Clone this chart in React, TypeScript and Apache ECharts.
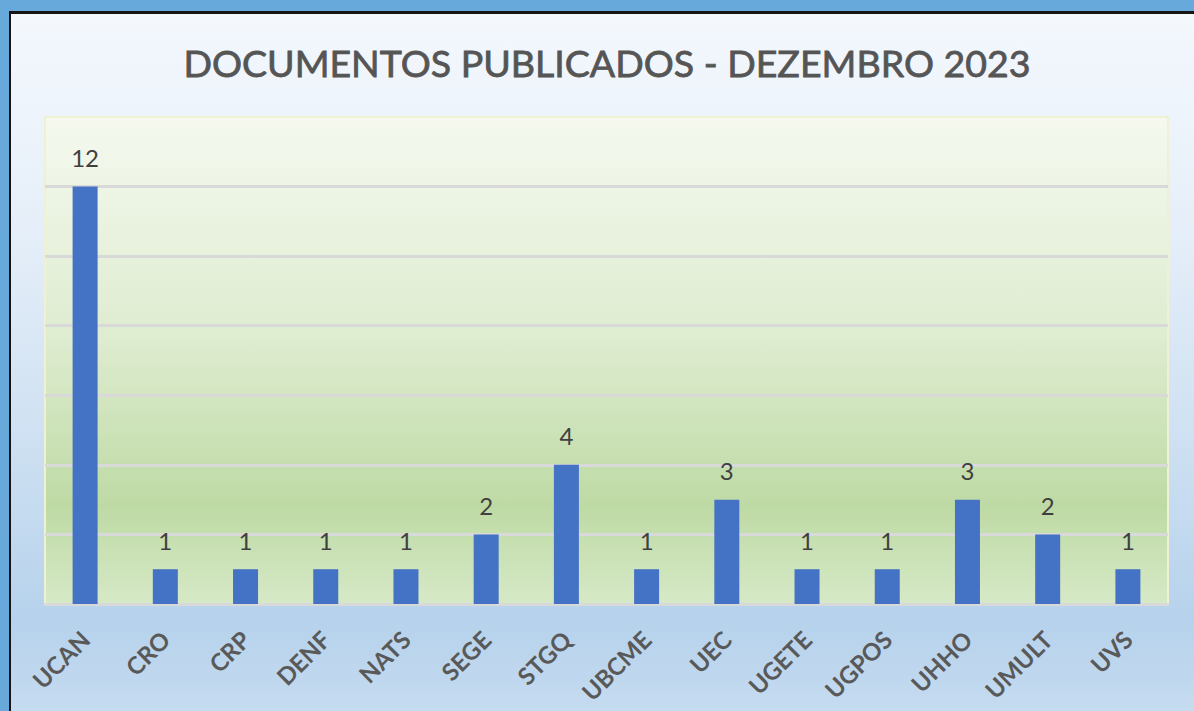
import React, { useEffect, useRef } from "react";
import * as echarts from "echarts";

const categories = ["UCAN", "CRO", "CRP", "DENF", "NATS", "SEGE", "STGQ", "UBCME", "UEC", "UGETE", "UGPOS", "UHHO", "UMULT", "UVS"];
const values = [12, 1, 1, 1, 1, 2, 4, 1, 3, 1, 1, 3, 2, 1];
const titleText = "DOCUMENTOS PUBLICADOS - DEZEMBRO 2023";

export default function App() {
  const ref = useRef<HTMLDivElement>(null);
  useEffect(() => {
    if (!ref.current) return;
    const chart = echarts.init(ref.current, undefined, { renderer: "svg" });
    chart.setOption({
      animation: false,
      backgroundColor: "transparent",
      title: {
        text: titleText,
        left: 602,
        top: 38,
        textAlign: "center",
        textStyle: { fontFamily: "Lato", fontSize: 37.5, fontWeight: "normal", color: "#555555", textBorderColor: "#555555", textBorderWidth: 0.8 },
      },
      grid: {
        left: 45,
        right: 26,
        top: 117,
        bottom: 107,
        show: true,
        borderColor: "#eef1d4",
        borderWidth: 2,
        backgroundColor: new echarts.graphic.LinearGradient(0, 0, 0, 1, [
          { offset: 0, color: "#f5f9ef" },
          { offset: 0.45, color: "#deecd0" },
          { offset: 0.8, color: "#bedaa4" },
          { offset: 1, color: "#d6e9c7" },
        ]),
      },
      xAxis: {
        type: "category",
        data: categories,
        axisLine: { show: true, lineStyle: { color: "#d9d9d9", width: 3 } },
        axisTick: { show: false },
        axisLabel: {
          rotate: 45,
          interval: 0,
          margin: 31,
          fontFamily: "Lato",
          fontSize: 24,
          fontWeight: "bold",
          color: "#595959",
        },
      },
      yAxis: {
        type: "value",
        min: 0,
        max: 14,
        interval: 2,
        axisLabel: { show: false },
        axisLine: { show: false },
        axisTick: { show: false },
        splitLine: { show: true, showMaxLine: false, lineStyle: { color: "#d9d9d9", width: 3 } },
      },
      series: [
        {
          type: "bar",
          data: values,
          barWidth: 25,
          itemStyle: { color: "#4472c4" },
          label: {
            show: true,
            position: "top",
            distance: 17,
            fontFamily: "Lato",
            fontSize: 24,
            color: "#404040",
          },
        },
      ],
    });
    return () => chart.dispose();
  }, []);

  return (
    <div style={{ position: "fixed", left: 0, top: 0, width: 1194, height: 711, background: "#68a9db", overflow: "hidden" }}>
      <div style={{ position: "absolute", left: 9, top: 11, width: 1185, height: 700, background: "#151515" }} />
      <div
        style={{
          position: "absolute",
          left: 11,
          top: 14,
          width: 1183,
          height: 697,
          background: "linear-gradient(180deg, #f4f8fd 0%, #e6eff9 30%, #cfe1f2 60%, #b6d2ec 87%, #c5dbf0 100%)",
        }}
      />
      <div ref={ref} style={{ position: "absolute", left: 0, top: 0, width: 1194, height: 711 }} />
    </div>
  );
}
